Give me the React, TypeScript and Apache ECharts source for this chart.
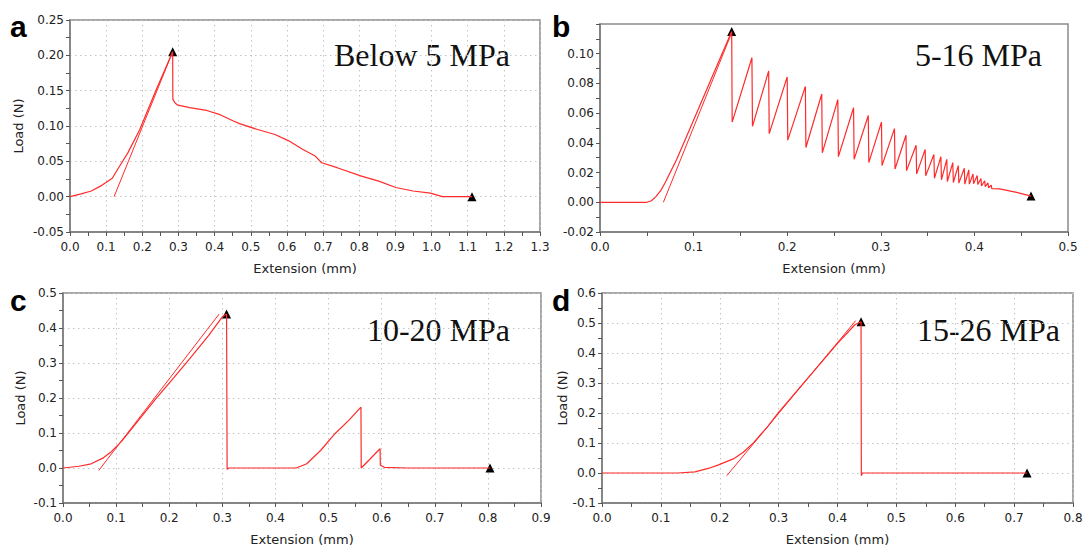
import React, { useEffect, useRef } from "react";
import * as echarts from "echarts";

// ---------- Panel a (Below 5 MPa) ----------
const aCurveX = [0, 0.031, 0.059, 0.088, 0.117, 0.137, 0.16, 0.193, 0.239, 0.267, 0.284, 0.2845, 0.29, 0.296, 0.331, 0.378, 0.415, 0.452, 0.471, 0.519, 0.567, 0.605, 0.643, 0.677, 0.696, 0.739, 0.806, 0.854, 0.901, 0.949, 0.997, 1.03, 1.112];
const aCurveY = [0, 0.004, 0.008, 0.016, 0.026, 0.043, 0.062, 0.095, 0.152, 0.185, 0.205, 0.138, 0.133, 0.13, 0.126, 0.122, 0.116, 0.107, 0.103, 0.095, 0.088, 0.079, 0.067, 0.058, 0.048, 0.041, 0.029, 0.022, 0.013, 0.008, 0.005, 0, 0];
const aTangentX = [0.122, 0.284];
const aTangentY = [0, 0.205];
const aMarkX = [0.284, 1.112];
const aMarkY = [0.205, 0];

// ---------- Panel b (5-16 MPa) ----------
const bRiseX = [0, 0.05, 0.055, 0.06, 0.065, 0.0694, 0.082, 0.095, 0.11, 0.125, 0.1407, 0.1412];
const bRiseY = [0, 0, 0.001, 0.004, 0.008, 0.013, 0.029, 0.048, 0.07, 0.092, 0.115, 0.054];
const bPeakX = [0.1623, 0.1802, 0.2, 0.2194, 0.2369, 0.2541, 0.2709, 0.2866, 0.3007, 0.3146, 0.3269, 0.3377, 0.3474, 0.3567, 0.3642, 0.3705, 0.3769, 0.3828, 0.3892, 0.394, 0.3985, 0.403, 0.407, 0.411, 0.4145, 0.418];
const bPeakY = [0.0973, 0.0884, 0.0844, 0.078, 0.0729, 0.0691, 0.0636, 0.0584, 0.054, 0.0496, 0.0451, 0.0384, 0.0356, 0.0322, 0.0307, 0.0289, 0.0267, 0.0247, 0.0229, 0.0218, 0.019, 0.018, 0.016, 0.0145, 0.013, 0.0115];
const bTroughY = [0.0511, 0.0462, 0.0418, 0.0369, 0.0333, 0.0307, 0.0289, 0.0267, 0.0247, 0.0224, 0.0213, 0.0191, 0.0178, 0.0162, 0.0151, 0.014, 0.0133, 0.0129, 0.0122, 0.0122, 0.0125, 0.012, 0.011, 0.0105, 0.0098, 0.0092];
const bTailX = [0.427, 0.445, 0.4605];
const bTailY = [0.009, 0.0067, 0.0042];
const bTangentX = [0.0677, 0.14];
const bTangentY = [0, 0.113];
const bMarkX = [0.1407, 0.4605];
const bMarkY = [0.115, 0.0042];

// ---------- Panel c (10-20 MPa) ----------
const cCurveX = [0, 0.03, 0.053, 0.076, 0.089, 0.109, 0.142, 0.175, 0.208, 0.241, 0.274, 0.3, 0.308, 0.309, 0.312, 0.35, 0.439, 0.459, 0.485, 0.512, 0.538, 0.561, 0.5615, 0.597, 0.5975, 0.605, 0.65, 0.804];
const cCurveY = [0, 0.005, 0.012, 0.029, 0.044, 0.074, 0.136, 0.198, 0.257, 0.317, 0.378, 0.432, 0.44, -0.004, 0, 0, 0, 0.012, 0.05, 0.098, 0.136, 0.174, 0, 0.055, 0.008, 0.002, 0, 0];
const cTangentX = [0.0673, 0.294];
const cTangentY = [-0.007, 0.44];
const cMarkX = [0.308, 0.804];
const cMarkY = [0.44, 0];

// ---------- Panel d (15-26 MPa) ----------
const dCurveX = [0, 0.129, 0.158, 0.182, 0.199, 0.223, 0.24, 0.258, 0.281, 0.3, 0.35, 0.4, 0.43, 0.44, 0.4405, 0.442, 0.722];
const dCurveY = [0, 0, 0.004, 0.016, 0.028, 0.047, 0.069, 0.102, 0.154, 0.202, 0.317, 0.432, 0.495, 0.504, -0.009, 0, 0];
const dTangentX = [0.212, 0.431];
const dTangentY = [-0.009, 0.508];
const dMarkX = [0.44, 0.722];
const dMarkY = [0.504, 0];

const panelTitles = ["Below 5 MPa", "5-16 MPa", "10-20 MPa", "15-26 MPa"];
const panelLetters = ["a", "b", "c", "d"];
const xTitle = "Extension (mm)";
const yTitle = "Load (N)";

const pairs = (xs: number[], ys: number[]) => xs.map((x, i) => [x, ys[i]]);

function buildSawtooth() {
  const pts = pairs(bRiseX, bRiseY);
  bPeakX.forEach((x, i) => {
    pts.push([x, bPeakY[i]]);
    pts.push([x + 0.0006, bTroughY[i]]);
  });
  return pts.concat(pairs(bTailX, bTailY));
}

const RED = "#ff2a2a";
const FONT = "DejaVu Sans";

const fmt = (d: number) => (v: number) => (Math.abs(v) < 1e-9 ? 0 : v).toFixed(d);

const grids = [
  { left: 70, top: 20, width: 470, height: 212 },
  { left: 600, top: 24, width: 468, height: 208 },
  { left: 63, top: 293, width: 478, height: 210 },
  { left: 602, top: 293, width: 471, height: 210 },
];

const xSpecs = [
  { min: 0, max: 1.3, interval: 0.1, d: 1, split: true },
  { min: 0, max: 0.5, interval: 0.1, d: 1, split: false },
  { min: 0, max: 0.9, interval: 0.1, d: 1, split: true },
  { min: 0, max: 0.8, interval: 0.1, d: 1, split: true },
];
const ySpecs = [
  { min: -0.05, max: 0.25, interval: 0.05, d: 2, split: true, name: true, gap: 45, showMax: true },
  { min: -0.02, max: 0.12, interval: 0.02, d: 2, split: false, name: false, gap: 40, showMax: false },
  { min: -0.1, max: 0.5, interval: 0.1, d: 1, split: true, name: true, gap: 36, showMax: true },
  { min: -0.1, max: 0.6, interval: 0.1, d: 1, split: true, name: true, gap: 33, showMax: true },
];

export default function App() {
  const ref = useRef<HTMLDivElement>(null);
  useEffect(() => {
    if (!ref.current) return;
    const chart = echarts.init(ref.current, null, { renderer: "svg" });
    const axisCommon = {
      axisLine: { show: true, onZero: false, lineStyle: { color: "#7a7a7a", width: 1.5 } },
      axisTick: { show: true, inside: false, length: 4, lineStyle: { color: "#555", width: 1 } },
      minorTick: { show: true, splitNumber: 2, length: 4, lineStyle: { color: "#555", width: 1 } },
    };
    const splitLine = (show: boolean) => ({
      show,
      lineStyle: { color: "#c4c4c4", width: 1, type: [1.5, 3.5] },
    });
    const xAxis = xSpecs.map((s, i) => ({
      type: "value",
      gridIndex: i,
      min: s.min,
      max: s.max,
      interval: s.interval,
      ...axisCommon,
      splitLine: splitLine(s.split),
      axisLabel: { color: "#222", fontFamily: FONT, fontSize: 12, margin: 9, formatter: fmt(s.d) },
      name: xTitle,
      nameLocation: "middle",
      nameGap: 30,
      nameTextStyle: { color: "#222", fontFamily: FONT, fontSize: 13 },
    }));
    const yAxis = ySpecs.map((s, i) => ({
      type: "value",
      gridIndex: i,
      min: s.min,
      max: s.max,
      interval: s.interval,
      ...axisCommon,
      splitLine: splitLine(s.split),
      axisLabel: {
        color: "#222",
        fontFamily: FONT,
        fontSize: 12,
        margin: 6,
        formatter: fmt(s.d),
        showMaxLabel: s.showMax,
      },
      name: s.name ? yTitle : "",
      nameLocation: "middle",
      nameGap: s.gap,
      nameTextStyle: { color: "#222", fontFamily: FONT, fontSize: 13 },
    }));

    const curves = [
      pairs(aCurveX, aCurveY),
      buildSawtooth(),
      pairs(cCurveX, cCurveY),
      pairs(dCurveX, dCurveY),
    ];
    const tangents = [
      pairs(aTangentX, aTangentY),
      pairs(bTangentX, bTangentY),
      pairs(cTangentX, cTangentY),
      pairs(dTangentX, dTangentY),
    ];
    const marks = [
      pairs(aMarkX, aMarkY),
      pairs(bMarkX, bMarkY),
      pairs(cMarkX, cMarkY),
      pairs(dMarkX, dMarkY),
    ];

    const series: any[] = [];
    for (let i = 0; i < 4; i++) {
      series.push({
        type: "line",
        xAxisIndex: i,
        yAxisIndex: i,
        data: curves[i],
        showSymbol: false,
        symbol: "none",
        lineStyle: { color: RED, width: 1.2 },
        silent: true,
      });
      series.push({
        type: "line",
        xAxisIndex: i,
        yAxisIndex: i,
        data: tangents[i],
        showSymbol: false,
        symbol: "none",
        lineStyle: { color: RED, width: 1 },
        silent: true,
      });
      series.push({
        type: "scatter",
        xAxisIndex: i,
        yAxisIndex: i,
        data: marks[i],
        symbol: "triangle",
        symbolSize: 9,
        itemStyle: { color: "#000", opacity: 1 },
        silent: true,
      });
    }

    const titlePos = [
      { x: 510, y: 55 },
      { x: 1042, y: 55 },
      { x: 510, y: 330 },
      { x: 1060, y: 330 },
    ];
    const letterPos = [
      { x: 10, y: 26 },
      { x: 552, y: 26 },
      { x: 10, y: 300 },
      { x: 552, y: 300 },
    ];
    const graphic: any[] = [];
    panelTitles.forEach((t, i) => {
      graphic.push({
        type: "text",
        x: titlePos[i].x,
        y: titlePos[i].y,
        style: {
          text: t,
          fill: "#111",
          font: '32px "Liberation Serif", "Times New Roman", serif',
          textAlign: "right",
          textVerticalAlign: "middle",
        },
      });
    });
    panelLetters.forEach((t, i) => {
      graphic.push({
        type: "text",
        x: letterPos[i].x,
        y: letterPos[i].y,
        style: {
          text: t,
          fill: "#000",
          font: 'bold 30px "Liberation Sans", Arial, sans-serif',
          textAlign: "left",
          textVerticalAlign: "middle",
        },
      });
    });

    chart.setOption({
      animation: false,
      backgroundColor: "#fff",
      grid: grids.map((g) => ({
        ...g,
        show: true,
        borderColor: "#8a8a8a",
        borderWidth: 1.5,
        backgroundColor: "transparent",
      })),
      xAxis,
      yAxis,
      series,
      graphic,
    });
    return () => chart.dispose();
  }, []);
  return (
    <div
      ref={ref}
      style={{ position: "fixed", left: 0, top: 0, width: 1092, height: 548, background: "#fff" }}
    />
  );
}
